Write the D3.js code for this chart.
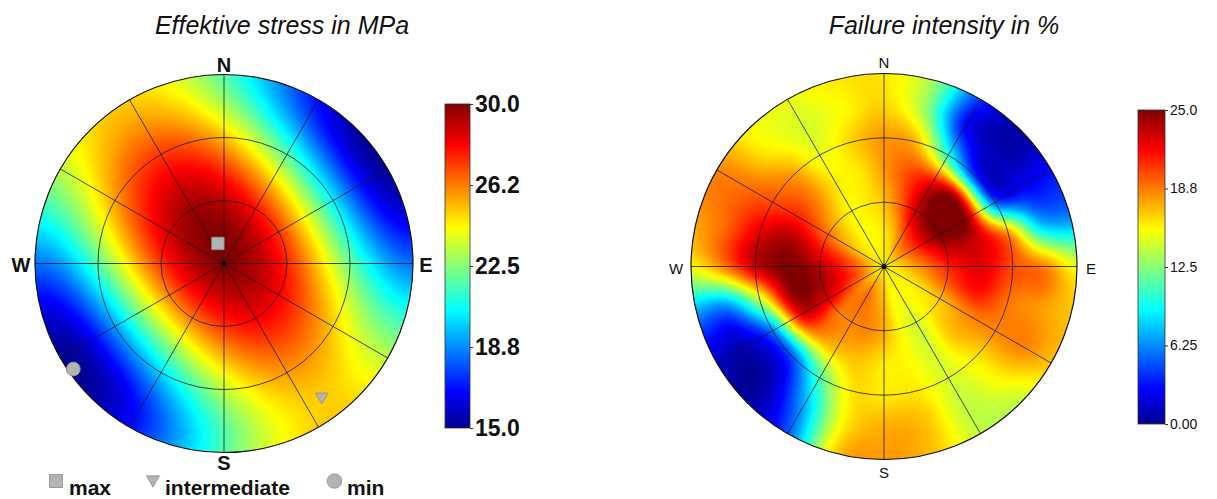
<!DOCTYPE html>
<html>
<head>
<meta charset="utf-8">
<script src="https://cdn.jsdelivr.net/npm/d3@7"></script>
<style>
  body { margin: 0; background: #fff; }
  text { font-family: Arial, "Liberation Sans", sans-serif; fill: #111; }
</style>
</head>
<body>
<div id="chart"></div>
<script>
// principal effective stresses (MPa), orientation as trend / plunge in degrees
var stressNames = ["max", "intermediate", "min"];
var stressValues = [30.0, 25.0, 15.0];
var stressTrend = [343, 144, 235];
var stressPlunge = [81, 13, 3];

// colour bar ticks
var stressTicks = [15, 18.75, 22.5, 26.25, 30];
var stressTickLabels = ["15.0", "18.8", "22.5", "26.2", "30.0"];
var failTicks = [0, 6.25, 12.5, 18.75, 25];
var failTickLabels = ["0.00", "6.25", "12.5", "18.8", "25.0"];

// failure intensity (%): one row per ring (r = 1/6 .. 1), azimuth 0..345 every 15 deg
var failAzimuth = d3.range(0, 360, 15);
var failCentre = 16;
var failRing1 = [16, 17, 19, 20, 20, 19, 18, 17, 16, 15.5, 15.5, 15.5, 17, 18, 19, 18.5, 19.5, 20.5, 20, 19, 17, 16, 15.5, 15.5];
var failRing2 = [17, 19.5, 23, 25, 25, 23, 21, 19.5, 17, 16, 14.5, 15.5, 17.5, 18.5, 18.5, 19, 22.5, 24, 23.5, 21.5, 19, 17, 15.5, 16];
var failRing3 = [18, 20, 22, 25, 24, 23, 22.5, 21.5, 18.5, 17, 14.5, 15.5, 16, 17, 17, 18, 22, 24.5, 25, 24, 21, 18.5, 16, 16];
var failRing4 = [18, 17, 10, 4, 5, 18, 20, 19, 18.5, 16, 14.5, 16, 16, 16, 11, 5, 6, 14, 23, 22.5, 20, 18, 15, 16.5];
var failRing5 = [16.5, 13, 3, 1, 2.5, 8, 18.5, 18, 18.5, 15.5, 14, 17, 17.5, 15.5, 7, 1, 1, 6, 18.5, 19.5, 19, 16, 14.5, 15.5];
var failRing6 = [16, 13, 4, 0.5, 3, 6, 15, 17, 17, 14, 14, 17, 18, 16.5, 5, 0.5, 1.5, 6, 15.5, 18, 18.5, 15.5, 15, 16];

var width = 1217, height = 499;
var svg = d3.select("#chart").append("svg")
    .attr("width", width)
    .attr("height", height);

// jet colour map as a d3 scale over [lo, hi]
function jet(lo, hi) {
    var f = [0, 0.111, 0.365, 0.619, 0.873, 1];
    return d3.scaleLinear()
        .domain(f.map(function (t) { return lo + t * (hi - lo); }))
        .range(["#00008f", "#0000ff", "#00ffff", "#ffff00", "#ff0000", "#800000"])
        .clamp(true);
}
var stressColour = jet(15, 30);
var failColour = jet(0, 25);

// equal-area lower hemisphere: plunge -> fraction of radius
function projR(plunge) {
    return Math.SQRT2 * Math.sin((90 - plunge) / 2 * Math.PI / 180);
}
function unit(trend, plunge) {
    var t = trend * Math.PI / 180, p = plunge * Math.PI / 180;
    return [Math.cos(p) * Math.sin(t), Math.cos(p) * Math.cos(t), Math.sin(p)];
}
function dot(a, b) { return a[0] * b[0] + a[1] * b[1] + a[2] * b[2]; }

// orthonormal principal axes
var e1 = unit(stressTrend[0], stressPlunge[0]);
var v2 = unit(stressTrend[1], stressPlunge[1]);
var k = dot(v2, e1);
var e2 = [v2[0] - k * e1[0], v2[1] - k * e1[1], v2[2] - k * e1[2]];
var n2 = Math.sqrt(dot(e2, e2));
e2 = e2.map(function (d) { return d / n2; });
var e3 = [e1[1] * e2[2] - e1[2] * e2[1], e1[2] * e2[0] - e1[0] * e2[2], e1[0] * e2[1] - e1[1] * e2[0]];
var axes = [e1, e2, e3];

function stressAt(az, r) {
    var theta = 2 * Math.asin(Math.min(1, r / Math.SQRT2));
    var t = az * Math.PI / 180;
    var d = [Math.sin(theta) * Math.sin(t), Math.sin(theta) * Math.cos(t), Math.cos(theta)];
    var s = 0;
    for (var i = 0; i < 3; i++) {
        var c = dot(d, axes[i]);
        s += stressValues[i] * c * c;
    }
    return s;
}

// smooth lookup in the polar grid of failure intensity
var failRows = [failAzimuth.map(function () { return failCentre; }),
    failRing1, failRing2, failRing3, failRing4, failRing5, failRing6];
function cr(p0, p1, p2, p3, t) {
    return 0.5 * (2 * p1 + (-p0 + p2) * t + (2 * p0 - 5 * p1 + 4 * p2 - p3) * t * t +
        (-p0 + 3 * p1 - 3 * p2 + p3) * t * t * t);
}
function rowAt(j, az) {
    var n = failAzimuth.length;
    if (j < 0) { j = -j; az += 180; }
    if (j > failRows.length - 1) j = failRows.length - 1;
    var row = failRows[j];
    var s = ((az % 360) + 360) % 360 / 15;
    var i = Math.floor(s), t = s - i;
    return cr(row[(i - 1 + n) % n], row[i % n], row[(i + 1) % n], row[(i + 2) % n], t);
}
function failAt(az, r) {
    var u = r * (failRows.length - 1);
    var j = Math.floor(u), t = u - j;
    var v = cr(rowAt(j - 1, az), rowAt(j, az), rowAt(j + 1, az), rowAt(j + 2, az), t);
    return Math.max(0, Math.min(25, v));
}

// paint a field into a canvas and hand back an image url
function fieldImage(R, valueAt, colour) {
    var size = Math.ceil(2 * R) + 2, c = size / 2;
    var dom = colour.domain();
    var lo = dom[0], hi = dom[dom.length - 1];
    var lut = d3.range(256).map(function (i) {
        return d3.rgb(colour(lo + i / 255 * (hi - lo)));
    });
    var canvas = document.createElement("canvas");
    canvas.width = size; canvas.height = size;
    var ctx = canvas.getContext("2d");
    var img = ctx.createImageData(size, size);
    for (var y = 0; y < size; y++) {
        for (var x = 0; x < size; x++) {
            var dx = x + 0.5 - c, dy = y + 0.5 - c;
            var r = Math.sqrt(dx * dx + dy * dy) / R;
            if (r > 1.02) continue;
            var az = Math.atan2(dx, -dy) * 180 / Math.PI;
            var v = valueAt(az, Math.min(r, 1));
            var idx = Math.round((v - lo) / (hi - lo) * 255);
            var col = lut[Math.max(0, Math.min(255, idx))];
            var o = (y * size + x) * 4;
            img.data[o] = col.r; img.data[o + 1] = col.g; img.data[o + 2] = col.b; img.data[o + 3] = 255;
        }
    }
    ctx.putImageData(img, 0, 0);
    return {url: canvas.toDataURL(), size: size};
}

var defs = svg.append("defs");

function drawNet(id, cx, cy, R, valueAt, colour, labelStyle) {
    defs.append("clipPath").attr("id", "clip-" + id)
        .append("circle").attr("r", R);

    var g = svg.append("g").attr("transform", "translate(" + cx + "," + cy + ")");
    var field = fieldImage(R, valueAt, colour);
    g.append("image")
        .attr("x", -field.size / 2).attr("y", -field.size / 2)
        .attr("width", field.size).attr("height", field.size)
        .attr("href", field.url)
        .attr("clip-path", "url(#clip-" + id + ")");

    var rScale = d3.scaleLinear().domain([0, 1]).range([0, R]);
    g.selectAll("circle.ring")
        .data([1 / 3, 2 / 3])
        .enter().append("circle")
        .attr("class", "ring")
        .attr("r", function (d) { return rScale(d); })
        .attr("fill", "none").attr("stroke", "#1a1a1a").attr("stroke-width", 0.8);

    g.selectAll("line.spoke")
        .data(d3.range(0, 360, 30))
        .enter().append("line")
        .attr("class", "spoke")
        .attr("x1", 0).attr("y1", 0)
        .attr("x2", function (d) { return rScale(1) * Math.sin(d * Math.PI / 180); })
        .attr("y2", function (d) { return -rScale(1) * Math.cos(d * Math.PI / 180); })
        .attr("stroke", "#1a1a1a").attr("stroke-width", 0.8);

    g.append("circle").attr("r", R)
        .attr("fill", "none").attr("stroke", "#111").attr("stroke-width", 1.2);

    // compass letters
    var off = labelStyle.offset;
    var lab = [["N", 0, -R - off.n], ["S", 0, R + off.s], ["W", -R - off.w, off.base], ["E", R + off.e, off.base]];
    g.selectAll("text.compass")
        .data(lab)
        .enter().append("text")
        .attr("class", "compass")
        .attr("x", function (d) { return d[1]; })
        .attr("y", function (d) { return d[2]; })
        .attr("text-anchor", "middle")
        .style("font-size", labelStyle.size + "px")
        .style("font-weight", labelStyle.weight)
        .text(function (d) { return d[0]; });

    return {g: g, r: rScale};
}

function drawColourBar(id, x, y0, y1, w, colour, ticks, labels, style) {
    var dom = colour.domain();
    var lo = dom[0], hi = dom[dom.length - 1];
    var grad = defs.append("linearGradient").attr("id", "grad-" + id)
        .attr("x1", 0).attr("y1", 1).attr("x2", 0).attr("y2", 0);
    grad.selectAll("stop")
        .data(dom)
        .enter().append("stop")
        .attr("offset", function (d) { return (d - lo) / (hi - lo); })
        .attr("stop-color", function (d) { return colour(d); });

    var y = d3.scaleLinear().domain([lo, hi]).range([y1, y0]);
    svg.append("rect")
        .attr("x", x).attr("y", y0).attr("width", w).attr("height", y1 - y0)
        .attr("fill", "url(#grad-" + id + ")")
        .attr("stroke", "#333").attr("stroke-width", 0.8);

    var axis = d3.axisRight(y)
        .tickValues(ticks)
        .tickSize(3)
        .tickPadding(2)
        .tickFormat(function (d, i) { return labels[i]; });
    var ax = svg.append("g")
        .attr("transform", "translate(" + (x + w) + ",0)")
        .call(axis);
    ax.select(".domain").remove();
    ax.selectAll(".tick line").attr("stroke", "#333");
    ax.selectAll(".tick text")
        .style("font-family", "Arial, 'Liberation Sans', sans-serif")
        .style("font-size", style.size + "px")
        .style("font-weight", style.weight)
        .attr("fill", "#111");
}

// titles
svg.append("text").attr("x", 282).attr("y", 34).attr("text-anchor", "middle")
    .style("font-size", "25px").style("font-style", "italic")
    .text("Effektive stress in MPa");
svg.append("text").attr("x", 944).attr("y", 34).attr("text-anchor", "middle")
    .style("font-size", "25px").style("font-style", "italic")
    .text("Failure intensity in %");

// left stereoplot: effective normal stress from the principal stresses
var R1 = 189;
var netA = drawNet("stress", 224, 263.5, R1, stressAt, stressColour,
    {size: 20, weight: "bold", offset: {n: 3, s: 17, w: 14, e: 13, base: 8}});

// principal stress markers
var markerFill = "#b3b3b3", markerStroke = "#8a8a8a";
function markerPath(i, s) {
    if (i === 0) return d3.symbol().type(d3.symbolSquare).size(s * s)();
    if (i === 1) return "M" + (-s / 2) + "," + (-s * 0.4) + "L" + (s / 2) + "," + (-s * 0.4) + "L0," + (s * 0.47) + "Z";
    return d3.symbol().type(d3.symbolCircle).size(Math.PI * s * s / 4)();
}
netA.g.selectAll("path.principal")
    .data(stressNames)
    .enter().append("path")
    .attr("class", "principal")
    .attr("transform", function (d, i) {
        var rr = netA.r(projR(stressPlunge[i]));
        var t = stressTrend[i] * Math.PI / 180;
        return "translate(" + (rr * Math.sin(t)) + "," + (-rr * Math.cos(t)) + ")";
    })
    .attr("d", function (d, i) { return markerPath(i, i === 2 ? 14 : 12.5); })
    .attr("fill", markerFill).attr("stroke", markerStroke).attr("stroke-width", 0.8);
netA.g.append("circle").attr("r", 2).attr("fill", "#000");

// legend
var legendX = [56, 153, 334.5];
var legendTextX = [69, 165, 347];
var legend = svg.append("g");
legend.selectAll("path")
    .data(stressNames)
    .enter().append("path")
    .attr("transform", function (d, i) { return "translate(" + legendX[i] + ",481)"; })
    .attr("d", function (d, i) { return markerPath(i, i === 2 ? 14.5 : 13); })
    .attr("fill", markerFill).attr("stroke", markerStroke).attr("stroke-width", 0.8);
legend.selectAll("text")
    .data(stressNames)
    .enter().append("text")
    .attr("x", function (d, i) { return legendTextX[i]; })
    .attr("y", 495)
    .style("font-size", "21px").style("font-weight", "bold")
    .text(function (d) { return d; });

drawColourBar("stress", 445, 104, 428, 25, stressColour, stressTicks, stressTickLabels,
    {size: 23, weight: "bold"});

// right stereoplot: failure intensity
var netB = drawNet("fail", 884, 266.5, 193, failAt, failColour,
    {size: 15, weight: "normal", offset: {n: 6, s: 18, w: 15, e: 14, base: 7}});
netB.g.append("circle").attr("r", 2.5).attr("fill", "#000");

drawColourBar("fail", 1138, 110, 424, 27, failColour, failTicks, failTickLabels,
    {size: 14, weight: "normal"});
</script>
</body>
</html>
